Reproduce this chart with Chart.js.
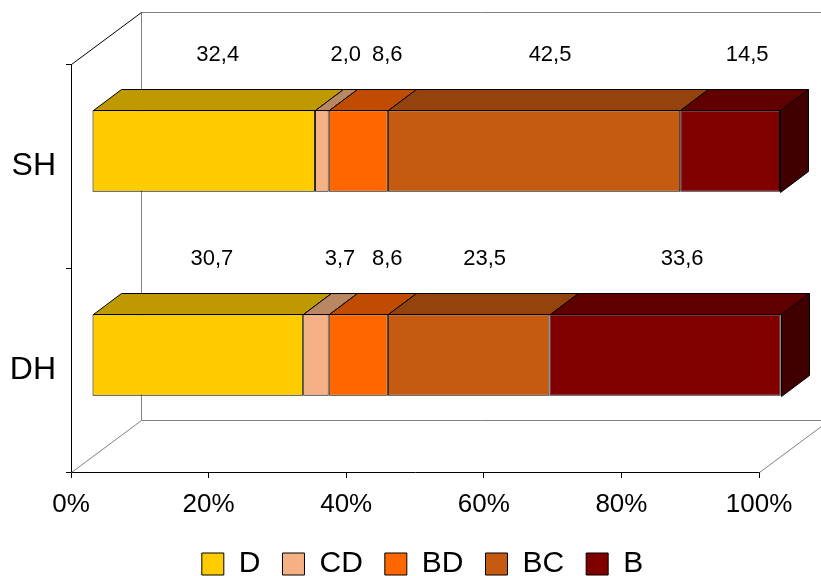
<!DOCTYPE html>
<html>
<head>
<meta charset="utf-8">
<script src="https://cdn.jsdelivr.net/npm/chart.js@4.4.1/dist/chart.umd.min.js"></script>
<style>
  html, body { margin: 0; padding: 0; background: #fff; }
  #wrap { width: 821px; height: 576px; }
</style>
</head>
<body>
<div id="wrap"><canvas id="chart" width="821" height="576"></canvas></div>
<script>
const categories = ["SH", "DH"];
const seriesNames = ["D", "CD", "BD", "BC", "B"];
const valuesD = [32.4, 30.7];
const valuesCD = [2.0, 3.7];
const valuesBD = [8.6, 8.6];
const valuesBC = [42.5, 23.5];
const valuesB = [14.5, 33.6];
const xTicks = [0, 20, 40, 60, 80, 100];

const seriesValues = [valuesD, valuesCD, valuesBD, valuesBC, valuesB];

const frontColors = ["#FFCC00", "#F5B183", "#FF6600", "#C55A11", "#800000"];
const topColors = ["#BF9900", "#B98762", "#BF4C00", "#94430D", "#600000"];
const sideColor = "#400000";
// extra sideways push of the value labels so the narrow ones don't crowd
const labelShift = [0, 10, 15, 2, 3];

// 3d box: full depth of the plot, where the bars sit in it, and bar depth
const DEPTH_X = 70, DEPTH_Y = -52;
const BAR_OFF_X = 21, BAR_OFF_Y = -15;
const BAR_DX = 28, BAR_DY = -21;
const FONT = "'Liberation Sans', Arial, sans-serif";

function poly(ctx, pts, fill) {
  ctx.beginPath();
  ctx.moveTo(pts[0][0], pts[0][1]);
  for (let k = 1; k < pts.length; k++) ctx.lineTo(pts[k][0], pts[k][1]);
  ctx.closePath();
  ctx.fillStyle = fill;
  ctx.fill();
  ctx.stroke();
}

const box3d = {
  id: "box3d",
  afterLayout(chart) {
    // legend centred under the plot rather than the whole canvas
    chart.legend.left += 24;
  },
  beforeDatasetsDraw(chart) {
    const { ctx, chartArea: a } = chart;
    const L = a.left + 0.5, R = a.right + 0.5, T = a.top + 0.5, B = a.bottom + 0.5;

    ctx.save();
    ctx.lineWidth = 1;
    ctx.strokeStyle = "#808080";
    ctx.beginPath();
    ctx.moveTo(R + DEPTH_X, T + DEPTH_Y);
    ctx.lineTo(L + DEPTH_X, T + DEPTH_Y);
    ctx.lineTo(L + DEPTH_X, B + DEPTH_Y);
    ctx.lineTo(R + DEPTH_X, B + DEPTH_Y);
    ctx.moveTo(L, B);
    ctx.lineTo(L + DEPTH_X, B + DEPTH_Y);
    ctx.moveTo(R, B);
    ctx.lineTo(R + DEPTH_X, B + DEPTH_Y);
    ctx.stroke();
    ctx.strokeStyle = "#000";
    ctx.beginPath();
    ctx.moveTo(L, T);
    ctx.lineTo(L + DEPTH_X, T + DEPTH_Y);
    ctx.stroke();
    ctx.restore();

    // bars are pushed back into the box; restored in afterDatasetsDraw
    ctx.save();
    ctx.translate(BAR_OFF_X, BAR_OFF_Y);
    ctx.lineWidth = 1;
    ctx.strokeStyle = "#000";
    const last = chart.data.datasets.length - 1;
    chart.data.datasets.forEach((ds, i) => {
      chart.getDatasetMeta(i).data.forEach(bar => {
        const { x, y, base, height } = bar.getProps(["x", "y", "base", "height"], true);
        const top = Math.round(y - height / 2) + 0.5;
        const bot = Math.round(y + height / 2) + 0.5;
        const x0 = Math.round(base) + 0.5, x1 = Math.round(x) + 0.5;
        poly(ctx, [[x0, top], [x1, top], [x1 + BAR_DX, top + BAR_DY], [x0 + BAR_DX, top + BAR_DY]], topColors[i]);
        if (i === last) {
          poly(ctx, [[x1, top], [x1 + BAR_DX, top + BAR_DY], [x1 + BAR_DX, bot + BAR_DY], [x1, bot]], sideColor);
        }
      });
    });
  },
  afterDatasetsDraw(chart) {
    const ctx = chart.ctx;
    ctx.restore();

    ctx.save();
    ctx.font = "22px " + FONT;
    ctx.fillStyle = "#000";
    ctx.textAlign = "center";
    ctx.textBaseline = "middle";
    chart.data.datasets.forEach((ds, i) => {
      chart.getDatasetMeta(i).data.forEach((bar, j) => {
        const { x, y, base, height } = bar.getProps(["x", "y", "base", "height"], true);
        const cx = (x + base) / 2 + BAR_OFF_X + 14 + labelShift[i];
        const cy = y - height / 2 + BAR_OFF_Y - 55;
        ctx.fillText(ds.data[j].toFixed(1).replace(".", ","), cx, cy);
      });
    });
    ctx.restore();
  }
};

new Chart(document.getElementById("chart"), {
  type: "bar",
  data: {
    labels: categories,
    datasets: seriesNames.map((name, i) => ({
      label: name,
      data: seriesValues[i],
      backgroundColor: frontColors[i],
      borderColor: "#000",
      borderWidth: 1,
      borderSkipped: false,
      categoryPercentage: 1,
      barPercentage: 0.4
    }))
  },
  options: {
    indexAxis: "y",
    responsive: false,
    animation: false,
    clip: false,
    layout: { padding: { top: 64, left: 0, right: 0, bottom: -13 } },
    scales: {
      x: {
        stacked: true,
        min: 0,
        max: 100,
        afterBuildTicks: s => { s.ticks = xTicks.map(v => ({ value: v })); },
        ticks: {
          callback: v => v + "%",
          font: { family: FONT, size: 26 },
          color: "#000",
          padding: 11,
          maxRotation: 0,
          autoSkip: false
        },
        grid: { drawOnChartArea: false, tickLength: 6, color: "#000" },
        border: { color: "#000" },
        afterFit: s => { s.height = 55; s.paddingRight = 62; }
      },
      y: {
        stacked: true,
        ticks: { font: { family: FONT, size: 32 }, color: "#000", padding: 10 },
        grid: { drawOnChartArea: false, tickLength: 5, color: "#000" },
        border: { color: "#000" },
        afterFit: s => { s.width = 71; }
      }
    },
    plugins: {
      legend: {
        position: "bottom",
        labels: {
          boxWidth: 22,
          boxHeight: 22,
          padding: 22,
          font: { family: FONT, size: 30 },
          color: "#000"
        }
      },
      tooltip: { enabled: false }
    }
  },
  plugins: [box3d]
});
</script>
</body>
</html>
